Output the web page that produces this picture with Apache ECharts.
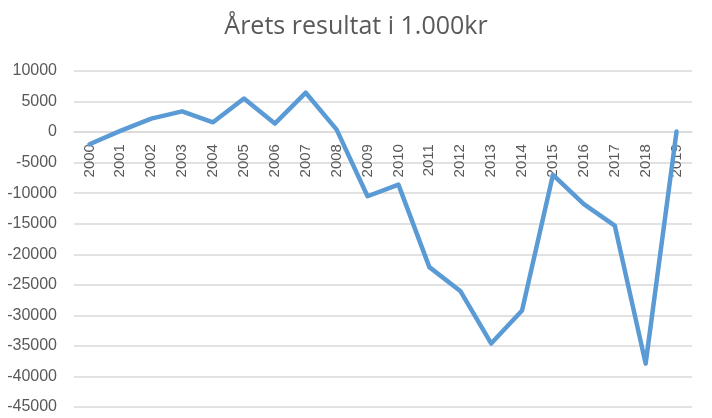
<!DOCTYPE html>
<html><head><meta charset="utf-8">
<script src="https://cdn.jsdelivr.net/npm/echarts@6/dist/echarts.min.js"></script>
<style>html,body{margin:0;padding:0;background:#fff}#c{width:712px;height:418px}</style>
</head><body><div id="c"></div>
<script>
const titleText = "Årets resultat i 1.000kr";
const years = ["2000","2001","2002","2003","2004","2005","2006","2007","2008","2009","2010","2011","2012","2013","2014","2015","2016","2017","2018","2019"];
const resultat = [-2000,200,2200,3400,1600,5500,1400,6450,400,-10500,-8600,-22100,-26000,-34600,-29200,-7000,-11800,-15300,-37900,100];
const yMin = -45000, yMax = 10000, yStep = 5000;

const W = 712, H = 418, gTop = 71, gBottom = 11;
const plotH = H - gTop - gBottom;
const zeroFromBottom = plotH * (0 - yMin) / (yMax - yMin);

const chart = echarts.init(document.getElementById('c'), null, {renderer:'canvas'});
chart.setOption({
  animation:false,
  title:{text:titleText,left:'center',top:9,textStyle:{fontFamily:'Open Sans',fontSize:25,fontWeight:'normal',color:'#595959'}},
  grid:{left:74,right:20,top:gTop,bottom:gBottom,containLabel:false,outerBoundsMode:'none'},
  xAxis:{type:'category',data:years,boundaryGap:true,position:'bottom',offset:-zeroFromBottom,
    axisLine:{onZero:false,lineStyle:{color:'#d9d9d9',width:1.5}},
    axisTick:{show:false},
    axisLabel:{rotate:90,color:'#595959',fontFamily:'Liberation Sans',fontSize:15,margin:12,interval:0}},
  yAxis:{type:'value',min:yMin,max:yMax,interval:yStep,
    axisLine:{show:false},axisTick:{show:false},
    splitLine:{lineStyle:{color:'#d9d9d9',width:1.5}},
    axisLabel:{color:'#595959',fontFamily:'Liberation Sans',fontSize:16,margin:17,formatter:v=>String(v)}},
  series:[{type:'line',data:resultat,showSymbol:false,symbol:'none',
    lineStyle:{color:'#5B9BD5',width:4.5,join:'round',cap:'round'}}]
});
</script></body></html>
